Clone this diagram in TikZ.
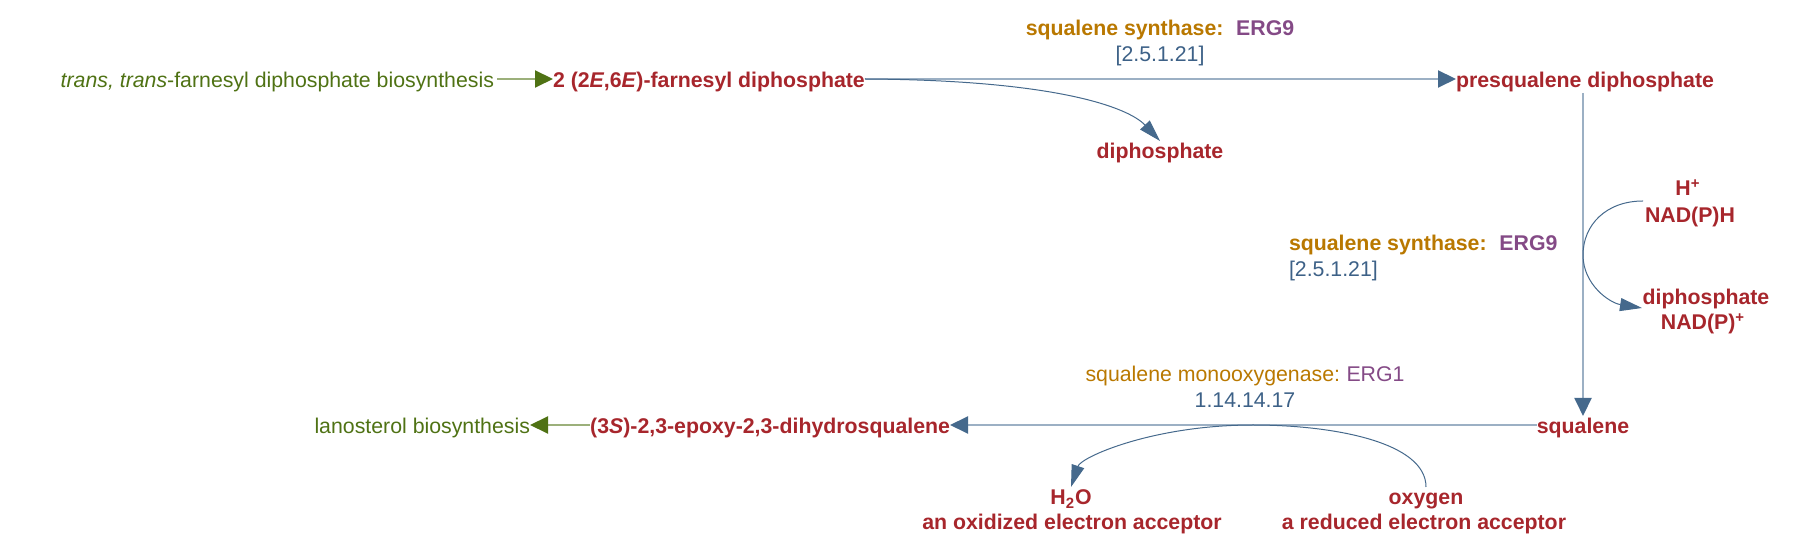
\documentclass[tikz,border=0pt]{standalone}
\usepackage{fontspec}
\setmainfont{Liberation Sans}
\usetikzlibrary{arrows.meta}
\definecolor{metred}{RGB}{167,38,44}
\definecolor{pwgreen}{RGB}{79,114,20}
\definecolor{pwlgreen}{RGB}{156,176,123}
\definecolor{enzorange}{RGB}{185,120,0}
\definecolor{genepurple}{RGB}{132,74,134}
\definecolor{ecblue}{RGB}{61,97,135}
\definecolor{arrdark}{RGB}{69,105,140}
\definecolor{arrlight}{RGB}{156,176,196}
\begin{document}
\begin{tikzpicture}[x=0.5pt,y=-0.5pt,
  every node/.style={inner sep=0pt,outer sep=0pt,text height=9pt,text depth=0pt,
    font=\fontsize{10.65}{12.8}\selectfont},
  met/.style={text=metred,font=\fontsize{10.65}{12.8}\selectfont\bfseries},
  pw/.style={text=pwgreen},
  enz/.style={text=enzorange},
  gene/.style={text=genepurple},
  ec/.style={text=ecblue},
  mainarrow/.style={draw=arrlight,line width=1pt,
    -{Triangle[length=9pt,width=8.5pt,color=arrdark,fill=arrdark]}},
  greenarrow/.style={draw=pwlgreen,line width=1pt,
    -{Triangle[length=9pt,width=8.5pt,color=pwgreen,fill=pwgreen]}},
  sidearrow/.style={draw=arrdark,line width=0.5pt,
    -{Triangle[length=11pt,width=6.5pt,color=arrdark,fill=arrdark]}}]
\useasboundingbox (0,0) rectangle (1794,544);

% top row
\node[pw,anchor=base east] (trans) at (494,88) {\textit{trans, trans}-farnesyl diphosphate biosynthesis};
\node[met,anchor=base west] (farn) at (553,88) {2 (2\textit{E},6\textit{E})-farnesyl diphosphate};
\node[met,anchor=base west] (presq) at (1456,88) {presqualene diphosphate};
\node[enz,anchor=base,font=\fontsize{10.65}{12.8}\selectfont\bfseries] (enz1) at (1160,36) {squalene synthase:\hspace{0.6em}\textcolor{genepurple}{ERG9}};
\node[ec,anchor=base] (ec1) at (1160,62) {[2.5.1.21]};
\node[met,anchor=base] (diph1) at (1160,159) {diphosphate};

% right side
\node[met,anchor=base] (hplus) at (1688,196) {H\textsuperscript{+}};
\node[met,anchor=base] (nadph) at (1690,223) {NAD(P)H};
\node[met,anchor=base] (diph2) at (1706,305) {diphosphate};
\node[met,anchor=base] (nadp) at (1703,330) {NAD(P)\textsuperscript{+}};
\node[enz,anchor=base west,font=\fontsize{10.65}{12.8}\selectfont\bfseries] (enz2) at (1289,251) {squalene synthase:\hspace{0.6em}\textcolor{genepurple}{ERG9}};
\node[ec,anchor=base west] (ec2) at (1289,277) {[2.5.1.21]};

% bottom row
\node[met,anchor=base] (squal) at (1583,434) {squalene};
\node[met,anchor=base east] (epoxy) at (950,434) {(3\textit{S})-2,3-epoxy-2,3-dihydrosqualene};
\node[pw,anchor=base east] (lano) at (530,434) {lanosterol biosynthesis};
\node[enz,anchor=base] (enz3) at (1245,382) {squalene monooxygenase:\hspace{0.3em}\textcolor{genepurple}{ERG1}};
\node[ec,anchor=base] (ec3) at (1245,408) {1.14.14.17};
\node[met,anchor=base] (h2o) at (1071,505) {H\textsubscript{2}O};
\node[met,anchor=base] (oxacc) at (1072,530) {an oxidized electron acceptor};
\node[met,anchor=base] (oxy) at (1426,505) {oxygen};
\node[met,anchor=base] (redacc) at (1424,530) {a reduced electron acceptor};

\coordinate (c2s) at (1643,201);
\coordinate (c2e) at (1642,308);
\coordinate (c3m) at (1253,425);

% connectors
\draw[greenarrow,shorten <=1.5pt] (trans.east) -- (farn.west);
\draw[mainarrow] (farn.east) -- (presq.west);
\draw[sidearrow] (farn.east) .. controls +(190,1) and +(-32,-34) .. (diph1.north);
\draw[mainarrow,shorten <=2.5pt] (squal.north |- presq.south) -- (squal.north);
\draw[sidearrow] (c2s) .. controls (1606,201) and (1583,225) .. (1583,255)
  .. controls (1583,285) and (1610,303) .. (c2e);
\draw[mainarrow] (squal.west) -- (epoxy.east);
\draw[sidearrow] (oxy.north) .. controls +(0,-45) and +(80,0) .. (c3m)
  .. controls +(-100,0) and +(10,-30) .. (h2o.north);
\draw[greenarrow] (epoxy.west) -- (lano.east);
\end{tikzpicture}
\end{document}
